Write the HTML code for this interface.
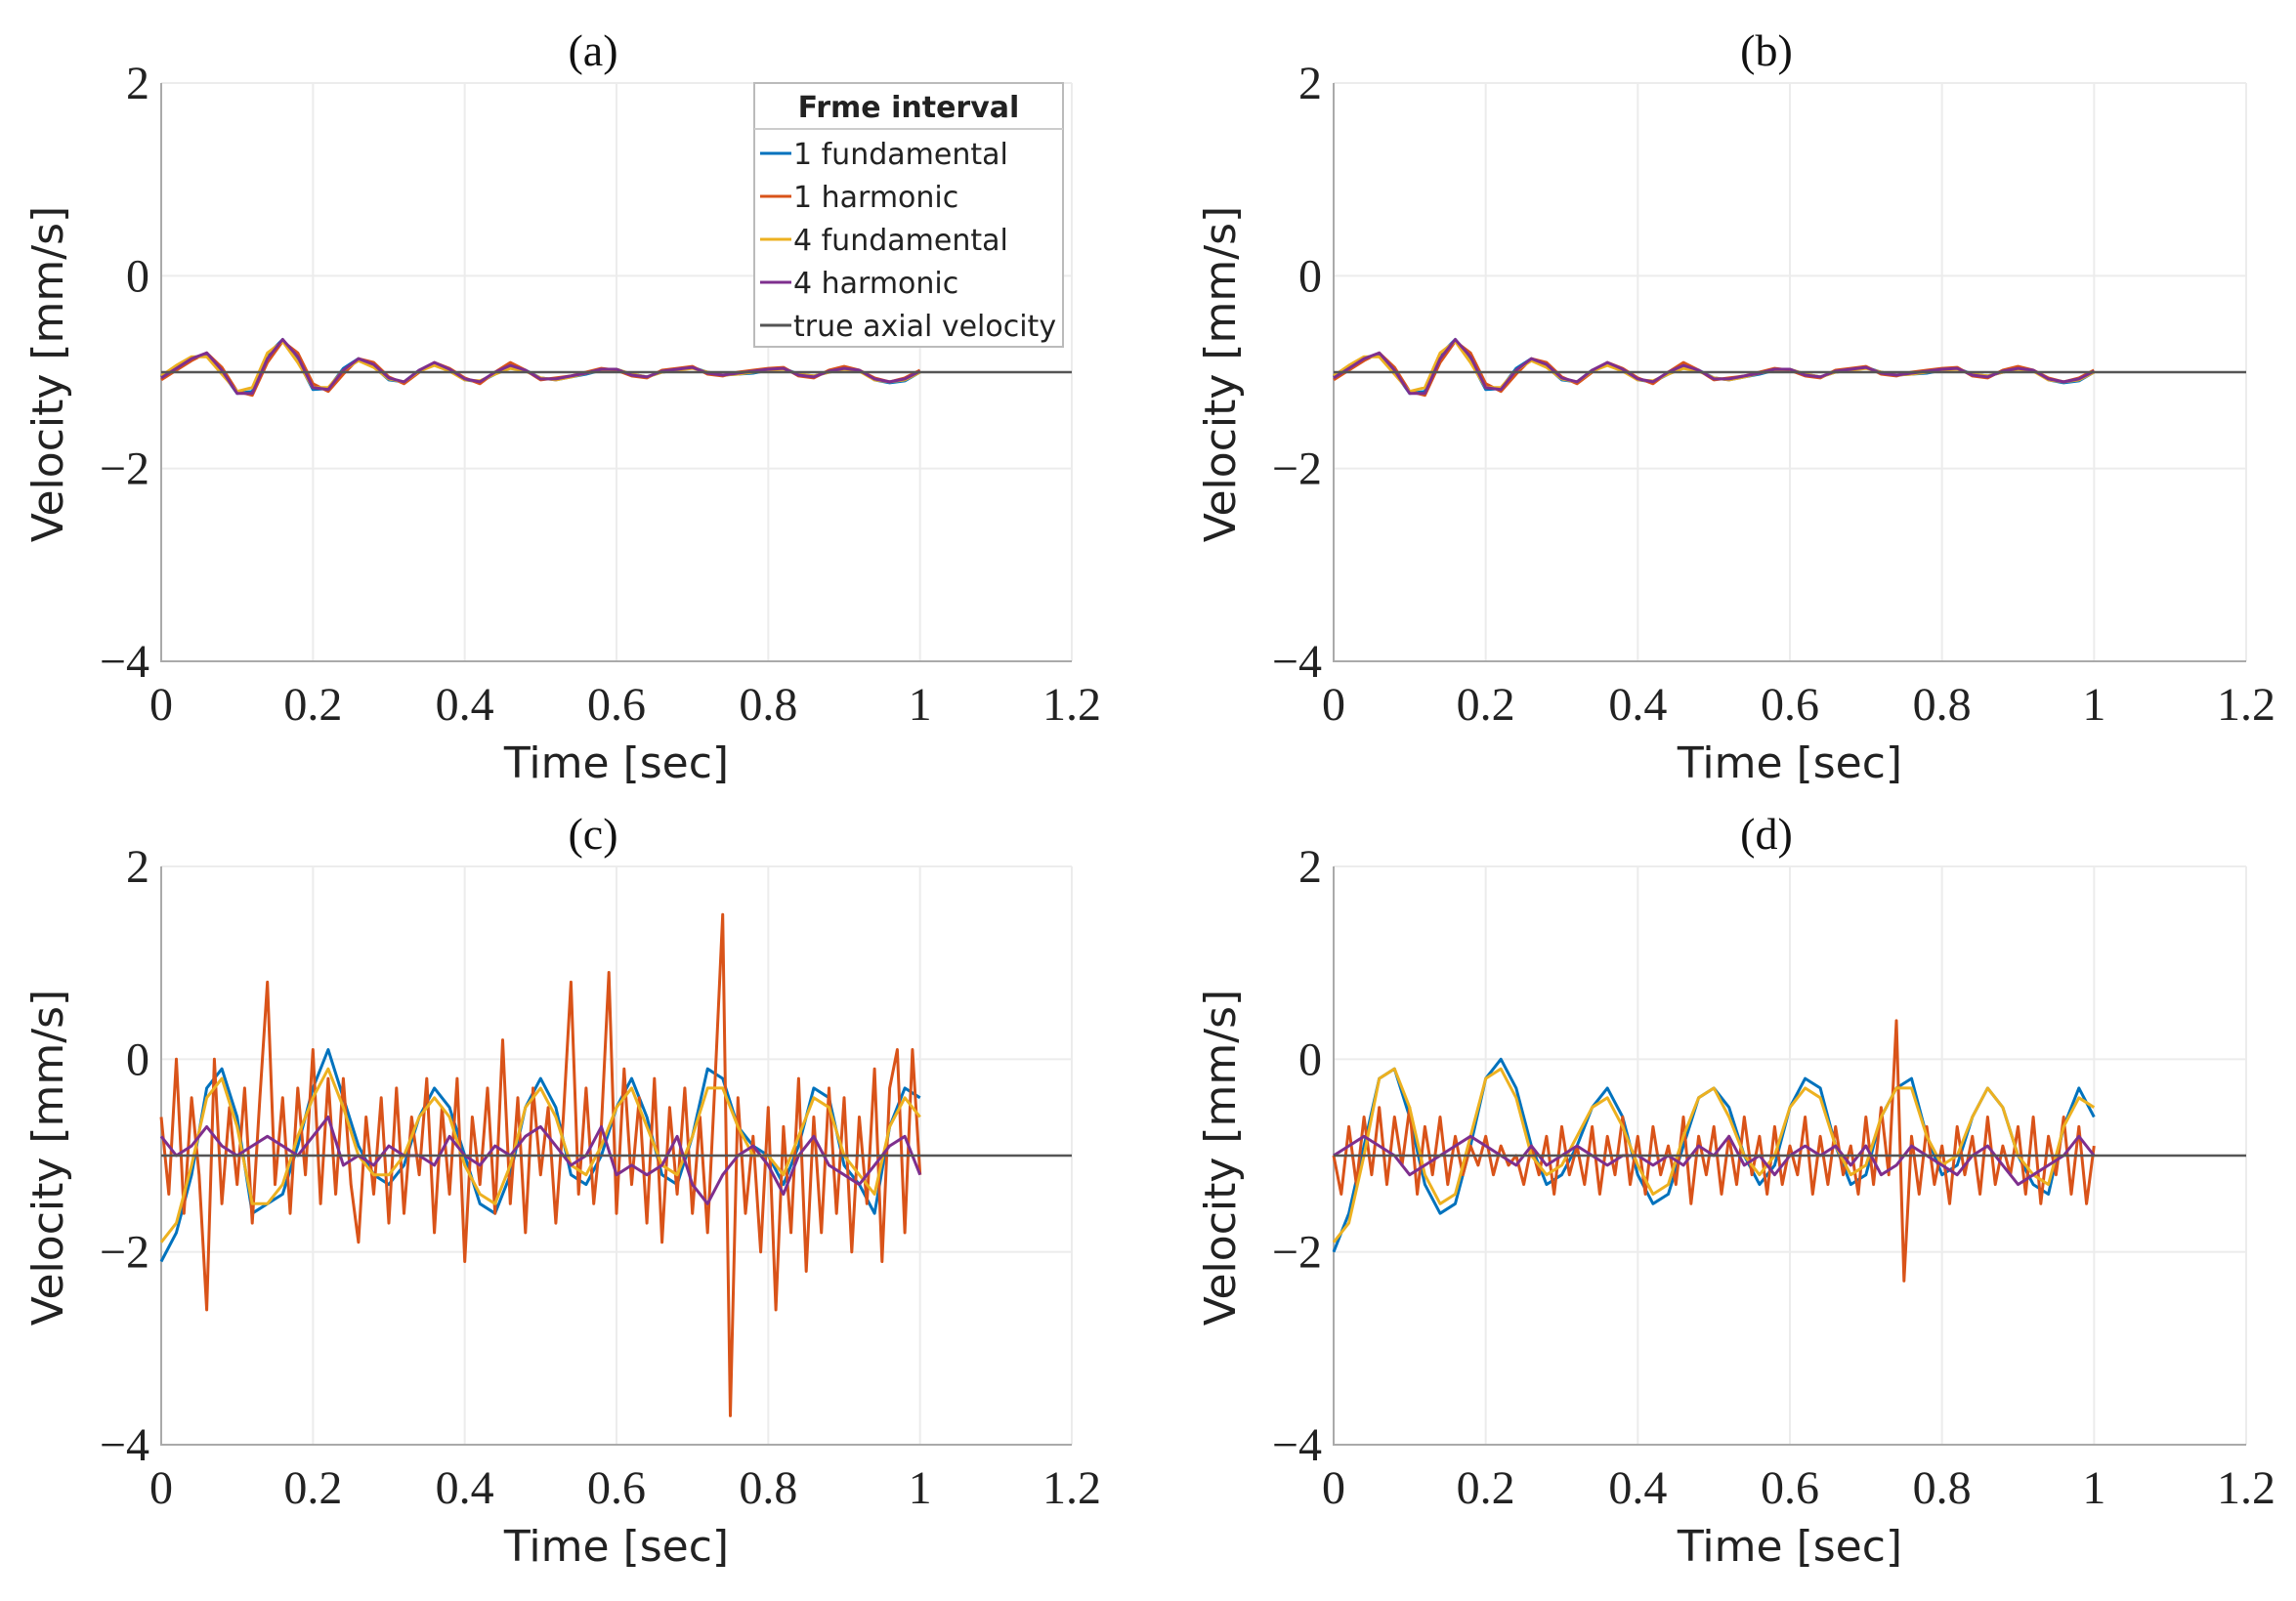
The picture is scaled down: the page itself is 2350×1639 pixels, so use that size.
<!DOCTYPE html>
<html><head><meta charset="utf-8"><style>
html,body{margin:0;padding:0;background:#fff;}
svg{display:block;}
.tk{font-family:"Liberation Serif",serif;font-size:48px;fill:#222;}
.lb{font-family:"DejaVu Sans","Liberation Sans",sans-serif;font-size:44px;fill:#222;}
.tt{font-family:"Liberation Serif",serif;font-size:46px;fill:#111;}
.lg{font-family:"DejaVu Sans","Liberation Sans",sans-serif;font-size:30px;fill:#222;}
</style></head><body>
<svg id="fig" width="2350" height="1639" viewBox="0 0 2350 1639" xmlns="http://www.w3.org/2000/svg"></svg>
<script>
const xTicks=[0,0.2,0.4,0.6,0.8,1,1.2];
const xTickLabels=["0","0.2","0.4","0.6","0.8","1","1.2"];
const yTicks=[2,0,-2,-4];
const yTickLabels=["2","0","\u22122","\u22124"];
const seriesNames=["1 fundamental","1 harmonic","4 fundamental","4 harmonic","true axial velocity"];
const trueVel=-1;
// panel a/b (step 0.02)
const abBlue=[-1.05,-0.95,-0.85,-0.82,-1.0,-1.22,-1.2,-0.82,-0.66,-0.88,-1.18,-1.17,-0.96,-0.86,-0.94,-1.08,-1.1,-0.98,-0.92,-0.98,-1.08,-1.1,-1.02,-0.95,-0.98,-1.06,-1.08,-1.05,-1.02,-0.98,-0.97,-1.02,-1.05,-1.0,-0.98,-0.95,-1.0,-1.03,-1.02,-1.01,-0.98,-0.96,-1.02,-1.04,-1.0,-0.97,-0.98,-1.08,-1.11,-1.09,-1.0];
const abRed=[-1.08,-0.98,-0.88,-0.8,-0.95,-1.2,-1.24,-0.9,-0.68,-0.8,-1.12,-1.2,-1.02,-0.86,-0.9,-1.05,-1.12,-1.0,-0.9,-0.96,-1.06,-1.12,-1.0,-0.9,-0.98,-1.08,-1.06,-1.04,-1.0,-0.96,-0.98,-1.04,-1.06,-0.98,-0.96,-0.94,-1.02,-1.04,-1.0,-0.98,-0.96,-0.95,-1.04,-1.06,-0.98,-0.94,-0.98,-1.06,-1.1,-1.06,-0.98];
const abYellow=[-1.04,-0.93,-0.84,-0.84,-1.02,-1.2,-1.16,-0.8,-0.68,-0.9,-1.16,-1.16,-0.98,-0.88,-0.95,-1.07,-1.1,-0.99,-0.93,-0.99,-1.08,-1.09,-1.02,-0.96,-0.99,-1.06,-1.08,-1.05,-1.01,-0.98,-0.97,-1.02,-1.05,-1.0,-0.98,-0.96,-1.0,-1.03,-1.02,-1.0,-0.98,-0.97,-1.02,-1.04,-1.0,-0.97,-0.99,-1.08,-1.1,-1.08,-1.0];
const abPurple=[-1.06,-0.96,-0.86,-0.8,-0.98,-1.22,-1.22,-0.86,-0.66,-0.84,-1.16,-1.18,-0.98,-0.86,-0.92,-1.06,-1.1,-0.98,-0.9,-0.97,-1.07,-1.1,-1.0,-0.93,-0.98,-1.07,-1.07,-1.04,-1.01,-0.97,-0.97,-1.03,-1.05,-0.99,-0.97,-0.95,-1.01,-1.03,-1.01,-0.99,-0.97,-0.96,-1.03,-1.05,-0.99,-0.96,-0.98,-1.07,-1.1,-1.07,-0.99];
// panel c
const cBlue=[-2.1,-1.8,-1.2,-0.3,-0.1,-0.6,-1.6,-1.5,-1.4,-0.9,-0.3,0.1,-0.4,-0.9,-1.2,-1.3,-1.1,-0.6,-0.3,-0.5,-1.0,-1.5,-1.6,-1.2,-0.5,-0.2,-0.5,-1.2,-1.3,-1.0,-0.5,-0.2,-0.6,-1.2,-1.3,-0.8,-0.1,-0.2,-0.7,-0.9,-1.0,-1.3,-0.9,-0.3,-0.4,-1.1,-1.3,-1.6,-0.7,-0.3,-0.4];
const cYellow=[-1.9,-1.7,-1.1,-0.4,-0.2,-0.7,-1.5,-1.5,-1.3,-0.8,-0.4,-0.1,-0.5,-1.0,-1.2,-1.2,-1.0,-0.6,-0.4,-0.6,-1.1,-1.4,-1.5,-1.1,-0.5,-0.3,-0.6,-1.1,-1.2,-0.9,-0.5,-0.3,-0.7,-1.1,-1.2,-0.8,-0.3,-0.3,-0.7,-1.0,-1.0,-1.2,-0.8,-0.4,-0.5,-1.0,-1.2,-1.4,-0.7,-0.4,-0.6];
const cRed=[-0.6,-1.4,0.0,-1.6,-0.4,-1.2,-2.6,0.0,-1.5,-0.5,-1.3,-0.3,-1.7,-0.4,0.8,-1.3,-0.4,-1.6,-0.3,-1.2,0.1,-1.5,-0.2,-1.4,-0.2,-1.3,-1.9,-0.6,-1.4,-0.4,-1.7,-0.3,-1.6,-0.6,-1.2,-0.2,-1.8,-0.5,-1.4,-0.2,-2.1,-0.6,-1.3,-0.3,-1.6,0.2,-1.5,-0.4,-1.8,-0.3,-1.2,-0.5,-1.7,-0.6,0.8,-1.4,-0.3,-1.5,-0.7,0.9,-1.6,-0.1,-1.3,-0.4,-1.7,-0.2,-1.9,-0.5,-1.4,-0.3,-1.6,-0.6,-1.8,-0.2,1.5,-3.7,-0.4,-1.6,-0.8,-2.0,-0.5,-2.6,-0.7,-1.8,-0.2,-2.2,-0.6,-1.8,-0.3,-1.6,-0.4,-2.0,-0.6,-1.5,-0.1,-2.1,-0.3,0.1,-1.8,0.1,-1.2];
const cPurple=[-0.8,-1.0,-0.9,-0.7,-0.9,-1.0,-0.9,-0.8,-0.9,-1.0,-0.8,-0.6,-1.1,-1.0,-1.1,-0.9,-1.0,-1.0,-1.1,-0.8,-1.0,-1.1,-0.9,-1.0,-0.8,-0.7,-0.9,-1.1,-1.0,-0.7,-1.2,-1.1,-1.2,-1.1,-0.8,-1.3,-1.5,-1.2,-1.0,-0.9,-1.1,-1.4,-1.0,-0.8,-1.1,-1.2,-1.3,-1.1,-0.9,-0.8,-1.2];
// panel d
const dBlue=[-2.0,-1.6,-0.9,-0.2,-0.1,-0.6,-1.3,-1.6,-1.5,-0.9,-0.2,0.0,-0.3,-0.9,-1.3,-1.2,-0.9,-0.5,-0.3,-0.6,-1.2,-1.5,-1.4,-0.9,-0.4,-0.3,-0.5,-1.0,-1.3,-1.1,-0.5,-0.2,-0.3,-0.9,-1.3,-1.2,-0.6,-0.3,-0.2,-0.8,-1.2,-1.1,-0.6,-0.3,-0.5,-1.0,-1.3,-1.4,-0.7,-0.3,-0.6];
const dYellow=[-1.9,-1.7,-1.0,-0.2,-0.1,-0.5,-1.2,-1.5,-1.4,-0.8,-0.2,-0.1,-0.4,-1.0,-1.2,-1.1,-0.8,-0.5,-0.4,-0.7,-1.1,-1.4,-1.3,-0.8,-0.4,-0.3,-0.6,-1.0,-1.2,-1.0,-0.5,-0.3,-0.4,-0.9,-1.2,-1.1,-0.6,-0.3,-0.3,-0.8,-1.1,-1.0,-0.6,-0.3,-0.5,-1.0,-1.2,-1.3,-0.7,-0.4,-0.5];
const dRed=[-1.0,-1.4,-0.7,-1.3,-0.6,-1.2,-0.5,-1.3,-0.6,-1.1,-0.5,-1.4,-0.7,-1.2,-0.6,-1.3,-0.8,-1.2,-0.9,-1.1,-0.8,-1.2,-0.9,-1.1,-1.0,-1.3,-0.9,-1.2,-0.8,-1.4,-0.7,-1.2,-0.9,-1.3,-0.7,-1.4,-0.8,-1.2,-0.6,-1.3,-0.8,-1.4,-0.7,-1.2,-0.9,-1.3,-0.6,-1.5,-0.8,-1.2,-0.7,-1.4,-0.8,-1.3,-0.6,-1.2,-0.8,-1.4,-0.7,-1.3,-0.9,-1.2,-0.6,-1.4,-0.8,-1.3,-0.7,-1.2,-0.9,-1.4,-0.6,-1.3,-0.5,-1.2,0.4,-2.3,-0.8,-1.4,-0.7,-1.3,-0.9,-1.5,-0.7,-1.2,-0.8,-1.4,-0.6,-1.3,-0.9,-1.2,-0.7,-1.4,-0.6,-1.5,-0.8,-1.2,-0.6,-1.4,-0.7,-1.5,-0.9];
const dPurple=[-1.0,-0.9,-0.8,-0.9,-1.0,-1.2,-1.1,-1.0,-0.9,-0.8,-0.9,-1.0,-1.1,-0.9,-1.1,-1.0,-0.9,-1.0,-1.1,-1.0,-1.0,-1.1,-1.0,-1.1,-0.9,-1.0,-0.8,-1.1,-1.0,-1.2,-1.0,-0.9,-1.0,-0.9,-1.1,-0.9,-1.2,-1.1,-0.9,-1.0,-1.1,-1.2,-1.0,-0.9,-1.1,-1.3,-1.2,-1.1,-1.0,-0.8,-1.0];

const colors=["#0072BD","#D95319","#EDB120","#7E2F8E","#555555"];
const svg=document.getElementById('fig');
const NS="http://www.w3.org/2000/svg";
function mk(tag,attrs,parent){const e=document.createElementNS(NS,tag);for(const k in attrs)e.setAttribute(k,attrs[k]);(parent||svg).appendChild(e);return e;}
const panels=[
 {id:"a",x0:165,x1:1097,yT:85,yB:677,s:[abBlue,abRed,abYellow,abPurple],legend:true},
 {id:"b",x0:1365,x1:2299,yT:85,yB:677,s:[abBlue,abRed,abYellow,abPurple]},
 {id:"c",x0:165,x1:1097,yT:887,yB:1479,s:[cBlue,cRed,cYellow,cPurple]},
 {id:"d",x0:1365,x1:2299,yT:887,yB:1479,s:[dBlue,dRed,dYellow,dPurple]}
];
panels.forEach(p=>{
 const g=mk('g',{});
 
 
 const X=t=>p.x0+t/1.2*(p.x1-p.x0);
 const Y=v=>p.yT+(2-v)/6*(p.yB-p.yT);
 xTicks.forEach((t,i)=>{
  const l=mk('line',{x1:X(t),x2:X(t),y1:p.yT,y2:p.yB,stroke:"#ececec","stroke-width":2},g);
  
  
  const tx=mk('text',{x:X(t),y:p.yB+60,"text-anchor":"middle",class:"tk"},g);tx.textContent=xTickLabels[i];
  
  
 });
 yTicks.forEach((v,i)=>{
  const l=mk('line',{x1:p.x0,x2:p.x1,y1:Y(v),y2:Y(v),stroke:"#ececec","stroke-width":2},g);
  
  
  const tx=mk('text',{x:p.x0-12,y:Y(v)+16,"text-anchor":"end",class:"tk"},g);tx.textContent=yTickLabels[i];
  
  
 });
 const ax=mk('path',{d:`M${p.x0},${p.yT}V${p.yB}H${p.x1}`,fill:"none",stroke:"#aaa","stroke-width":2},g);
 
 
 p.s.forEach((arr,k)=>{
  const n=arr.length;
  const d=arr.map((v,i)=>(i?"L":"M")+X(i/(n-1)).toFixed(1)+","+Y(v).toFixed(1)).join("");
  const pl=mk('path',{d:d,fill:"none",stroke:colors[k],"stroke-width":3,"stroke-linejoin":"round"},g);
  
  
 });
 const tl=mk('line',{x1:p.x0,x2:p.x1,y1:Y(trueVel),y2:Y(trueVel),stroke:colors[4],"stroke-width":2.5},g);
 
 
 const ti=mk('text',{x:(p.x0+p.x1)/2-24,y:p.yT-18,"text-anchor":"middle",class:"tt"},g);ti.textContent="("+p.id+")";
 
 
 const xl=mk('text',{x:(p.x0+p.x1)/2,y:p.yB+119,"text-anchor":"middle",class:"lb"},g);xl.textContent="Time [sec]";
 
 
 const yc=(p.yT+p.yB)/2+2;
 const yl=mk('text',{x:p.x0-101,y:yc,"text-anchor":"middle",class:"lb",transform:`rotate(-90 ${p.x0-101} ${yc})`},g);yl.textContent="Velocity [mm/s]";
 
 
 if(p.legend){
  const lg=mk('g',{},g);
  
  
  mk('rect',{x:772,y:85,width:316,height:270,fill:"#fff",stroke:"#bbb","stroke-width":2},lg);
  mk('line',{x1:772,x2:1088,y1:132,y2:132,stroke:"#ccc","stroke-width":2},lg);
  const h=mk('text',{x:930,y:120,"text-anchor":"middle",class:"lg","font-weight":"bold"},lg);h.textContent="Frme interval";
  
  
  seriesNames.forEach((nm,k)=>{
   const yy=157+k*44;
   mk('line',{x1:778,x2:810,y1:yy,y2:yy,stroke:colors[k],"stroke-width":3},lg);
   const t=mk('text',{x:812,y:yy+11,class:"lg"},lg);t.textContent=nm;
   
   
  });
 }
});
</script>
</body></html>
